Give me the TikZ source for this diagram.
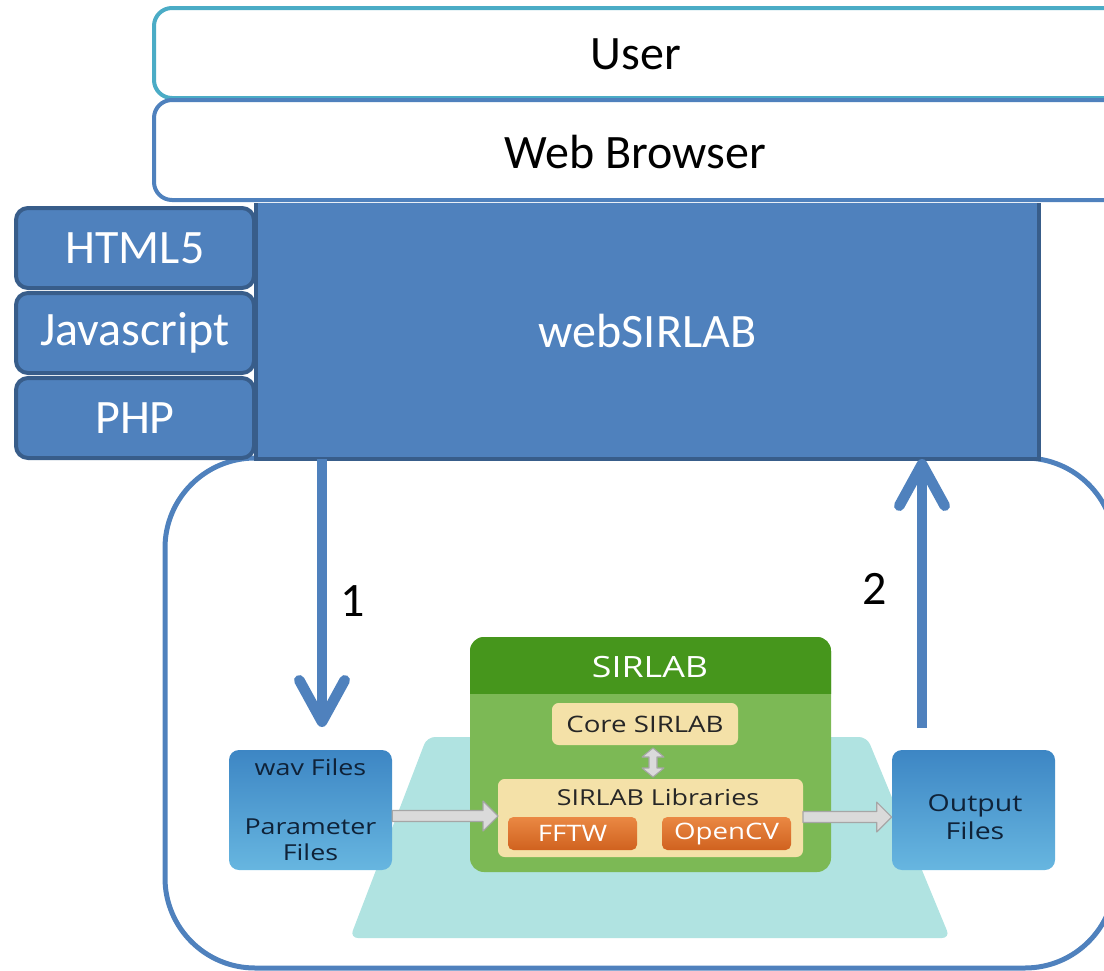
\documentclass[tikz,border=0pt]{standalone}
\usepackage{fontspec}
\setmainfont{Carlito}
\newfontfamily\figfont[FakeStretch=1.22]{Open Sans}
\usetikzlibrary{arrows.meta,calc}

\definecolor{layerblue}{HTML}{4F81BD}
\definecolor{layerdark}{HTML}{385D8A}
\definecolor{userteal}{HTML}{4BACC6}
\definecolor{platecyan}{HTML}{B0E3E1}
\definecolor{hdrgreen}{HTML}{46961C}
\definecolor{bodygreen}{HTML}{7CB955}
\definecolor{beige}{HTML}{F4E1A8}
\definecolor{orangetop}{HTML}{EA8843}
\definecolor{orangebot}{HTML}{D0621F}
\definecolor{filetop}{HTML}{3D86C4}
\definecolor{filebot}{HTML}{67B6E0}
\definecolor{filetext}{HTML}{0F2238}
\definecolor{beigetext}{HTML}{262626}
\definecolor{pipefill}{HTML}{DADADA}
\definecolor{pipeline}{HTML}{A6A6A6}

\newcommand\bigtext{\fontsize{36}{42}\selectfont}
\newcommand\figsmall{\figfont\fontsize{16.5}{20}\selectfont}
\newcommand\figmid{\figfont\fontsize{17}{21}\selectfont}

\begin{document}
\begin{tikzpicture}[x=0.75pt,y=-0.75pt,
  layer/.style={draw, line width=3pt, rounded corners=13.5pt, fill=white,
    minimum width=756pt, inner sep=0pt, anchor=west},
  layertext/.style={font=\bigtext, inner sep=0pt},
  techbox/.style={draw=layerdark, fill=layerblue, line width=3pt,
    rounded corners=9pt, font=\bigtext, text=white,
    minimum width=178.5pt, minimum height=60pt, inner sep=0pt},
  flow/.style={draw=layerblue, line width=8pt,
    -{Straight Barb[length=31pt,width=34pt,round]}},
  steplabel/.style={font=\bigtext, inner sep=0pt},
  filebox/.style={top color=filetop, bottom color=filebot, rounded corners=7.5pt,
    minimum width=122.25pt, minimum height=90pt, inner sep=0pt,
    text=filetext, font=\figsmall, align=center},
  filelabel/.style={text=filetext, font=\figfont\fontsize{17.5}{20.5}\selectfont,
    align=center, inner sep=0pt},
  beigebox/.style={fill=beige, rounded corners=5pt, inner sep=0pt, outer sep=0pt},
  libbox/.style={top color=orangetop, bottom color=orangebot, rounded corners=4pt,
    minimum width=96.75pt, minimum height=24.75pt, inner sep=0pt,
    text=white, font=\figmid},
  pipe/.style={fill=pipefill, draw=pipeline, line width=0.8pt, line join=round}]

\useasboundingbox (0,0) rectangle (1104,971);
\clip (0,0) rectangle (1104,971);

% server-side container
\node[draw=layerblue, line width=3.75pt, rounded corners=67.5pt,
  minimum width=712.5pt, minimum height=382.5pt, inner sep=0pt] (server) at (640,713) {};

% webSIRLAB application block
\node[fill=layerblue, minimum width=587.25pt, minimum height=192pt, inner sep=0pt,
  outer sep=0pt, text=white, font=\bigtext] (web) at (647.5,331) {webSIRLAB};
\draw[draw=layerdark, line width=3pt] (web.north east) -- (web.south east) -- (web.south west) -- (web.north west);

% technology stack
\node[techbox] (html) at (135,248) {HTML5};
\node[techbox] (js) at (135,333) {Javascript};
\node[techbox] (php) at (135,418) {PHP};

% client layers
\node[layer, draw=userteal, minimum height=67.5pt] (user) at (152,53) {};
\node[layertext] (usertext) at (636,54) {User};
\node[layer, draw=layerblue, minimum height=75pt] (browser) at (152,150) {};
\node[layertext] (browsertext) at (635,152) {Web Browser};

% request / response arrows
\coordinate (reqend) at (322,727);
\coordinate (respstart) at (922,728);
\draw[flow] (web.south -| reqend) -- (reqend);
\draw[flow] (respstart) -- (respstart |- web.south);
\node[steplabel] (n1) at (353,601) {1};
\node[steplabel] (n2) at (875,589) {2};

% SIRLAB processing figure
\fill[platecyan, rounded corners=6pt] (427,737) -- (867,737) -- (950,938) -- (350,938) -- cycle;

\node[fill=bodygreen, rounded corners=10.5pt, minimum width=270.75pt,
  minimum height=176.25pt, inner sep=0pt, outer sep=0pt] (sirlab) at (650.5,754.5) {};
\begin{scope}
  \clip (sirlab.north west) rectangle ($(sirlab.east)+(0,-61.5)$);
  \fill[hdrgreen, rounded corners=10.5pt] (sirlab.north west) rectangle (sirlab.south east);
\end{scope}
\node[text=white, font=\figfont\fontsize{22}{26}\selectfont, inner sep=0pt] (sirlabtitle) at (650,667) {SIRLAB};

\node[beigebox, minimum width=139.5pt, minimum height=31.5pt, text=beigetext,
  font=\figmid] (core) at (645,724) {Core SIRLAB};
\node[beigebox, minimum width=228.75pt, minimum height=58.5pt] (libs) at (650.5,818) {};
\node[text=beigetext, font=\figfont\fontsize{16.5}{20}\selectfont, inner sep=0pt] (libstitle) at (658,797) {SIRLAB Libraries};
\node[libbox] (fftw) at (572.5,833.5) {FFTW};
\node[libbox] (opencv) at (726.5,833.5) {OpenCV};

% link between core and libraries
\coordinate (dt) at ($(core.south)+(8,3)$);
\coordinate (db) at ($(libs.north -| dt)+(0,-2)$);
\draw[pipe] (dt) -- ($(dt)+(11,9)$) -- ($(dt)+(4,9)$) -- ($(db)+(4,-9)$) -- ($(db)+(11,-9)$)
  -- (db) -- ($(db)+(-11,-9)$) -- ($(db)+(-4,-9)$) -- ($(dt)+(-4,9)$) -- ($(dt)+(-11,9)$) -- cycle;

% input and output files
\node[filebox] (wav) at (310.5,810) {wav Files\\[24pt]Parameter\\Files};
\node[filebox] (out) at (973.5,810) {};
\node[filelabel] (outtext) at (975,817) {Output\\Files};

% data flow through the libraries
\coordinate (ins) at ($(wav.east)+(0,6)$);
\coordinate (ine) at (ins -| libs.west);
\draw[pipe] ($(ins)+(0,-5.5)$) -- ($(ine)+(-15,-5.5)$) -- ($(ine)+(-15,-15)$) -- (ine)
  -- ($(ine)+(-15,15)$) -- ($(ine)+(-15,5.5)$) -- ($(ins)+(0,5.5)$) -- cycle;
\coordinate (outs) at ($(libs.east)+(0,-1)$);
\coordinate (oute) at (outs -| out.west);
\draw[pipe] ($(outs)+(0,-5.5)$) -- ($(oute)+(-15,-5.5)$) -- ($(oute)+(-15,-15)$) -- (oute)
  -- ($(oute)+(-15,15)$) -- ($(oute)+(-15,5.5)$) -- ($(outs)+(0,5.5)$) -- cycle;

\end{tikzpicture}
\end{document}
